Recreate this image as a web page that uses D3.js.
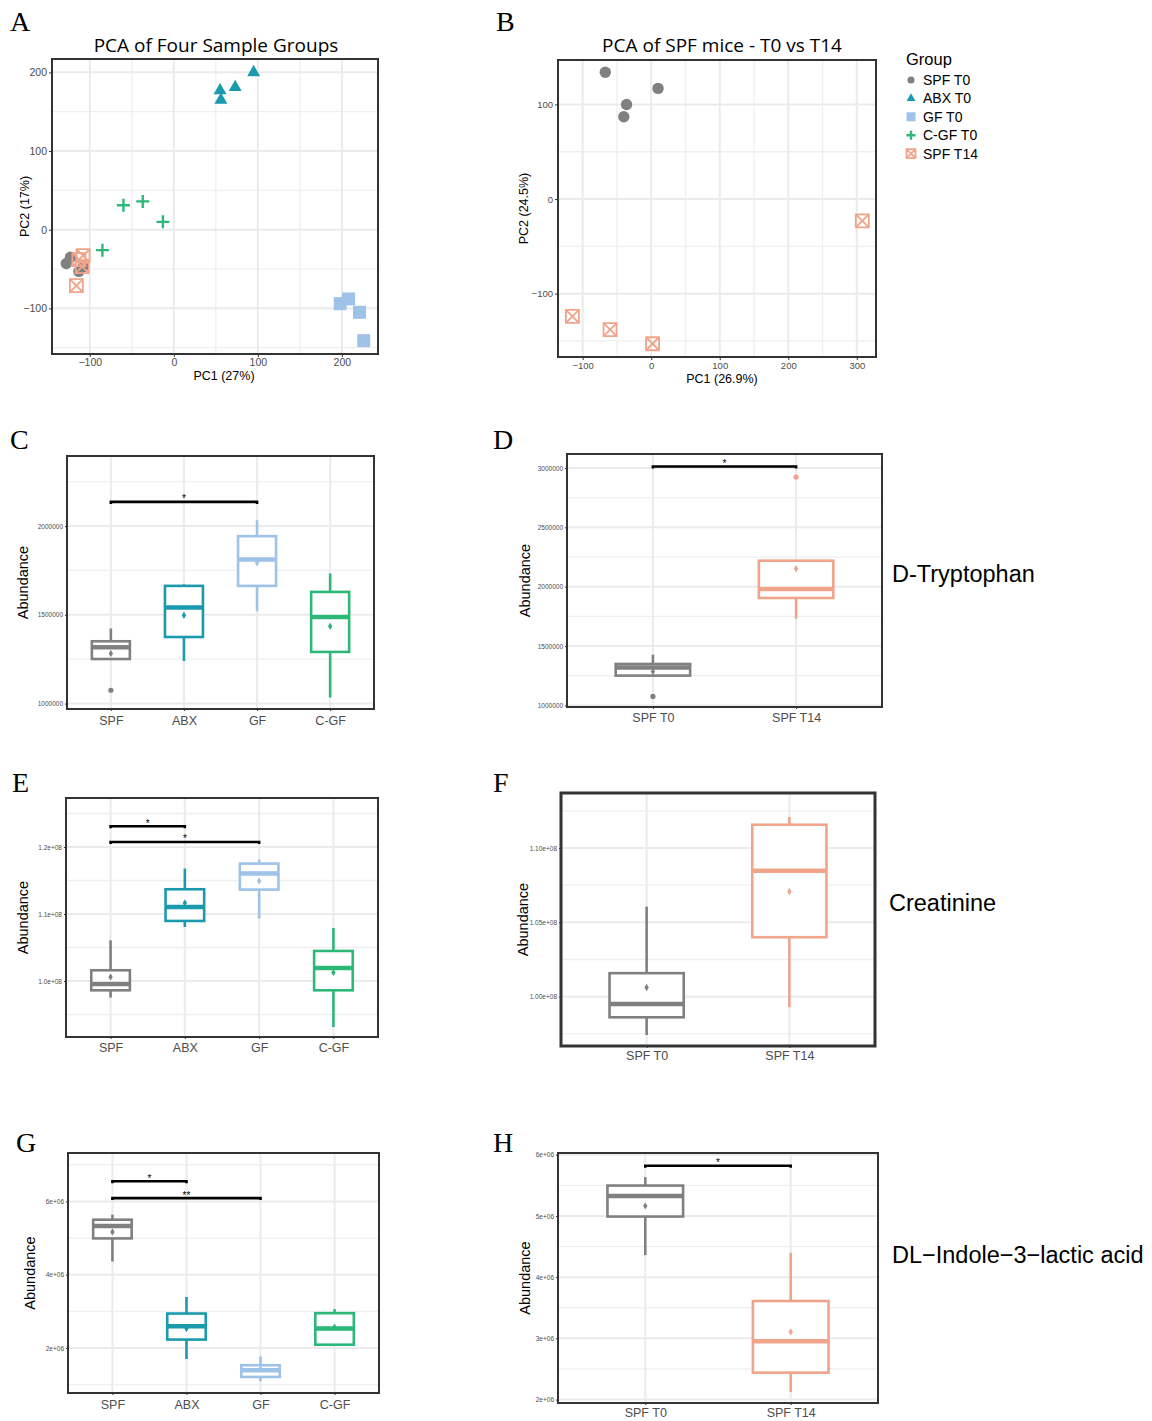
<!DOCTYPE html>
<html>
<head>
<meta charset="utf-8">
<script src="https://cdn.jsdelivr.net/npm/d3@7"></script>
<style>
body { margin: 0; background: #fff; }
</style>
</head>
<body>
<svg id="fig"></svg>
<script>
// ---------- data ----------
const pcaGroups = ["SPF T0", "ABX T0", "GF T0", "C-GF T0", "SPF T14"];
const groupColors = ["#808080", "#1b9aae", "#9ec2e8", "#2db87a", "#f0a48a"];
const groupShapes = ["circle", "triangle", "square", "plus", "squarex"];

// PCA A: [PC1, PC2]
const pcaA_spfT0 = [[-128, -43], [-123, -35], [-113, -53], [-108, -47]];
const pcaA_abxT0 = [[55, 177], [56, 165], [73, 181], [95, 200]];
const pcaA_gfT0 = [[198, -94], [208, -88], [221, -105], [226, -141]];
const pcaA_cgfT0 = [[-60, 31], [-37, 36], [-13, 10], [-85, -26]];
const pcaA_spfT14 = [[-108, -33], [-109, -47], [-116, -71], [-113, -38]];
const pcaA_xTicks = [-100, 0, 100, 200], pcaA_xMinor = [-50, 50, 150];
const pcaA_yTicks = [-100, 0, 100, 200], pcaA_yMinor = [-150, -50, 50, 150];

// PCA B
const pcaB_spfT0 = [[-67, 134], [10, 117], [-36, 100], [-40, 87]];
const pcaB_spfT14 = [[-115, -124], [-60, -138], [2, -153], [308, -23]];
const pcaB_xTicks = [-100, 0, 100, 200, 300], pcaB_xMinor = [-50, 50, 150, 250];
const pcaB_yTicks = [-100, 0, 100], pcaB_yMinor = [-150, -50, 50];

// boxplots: [whisker low, q1, median, q3, whisker high, mean]
const groups4 = ["SPF", "ABX", "GF", "C-GF"];
const groups2 = ["SPF T0", "SPF T14"];
const colors4 = ["#808080", "#1b9aae", "#9ec2e8", "#2db87a"];
const colors2 = ["#808080", "#f0a48a"];

const trpStats4 = [
  [1251000, 1251000, 1318000, 1351000, 1423000, 1282000],
  [1240000, 1375000, 1541000, 1663000, 1671000, 1498000],
  [1520000, 1663000, 1812000, 1943000, 2033000, 1793000],
  [1034000, 1291000, 1488000, 1629000, 1733000, 1436000]
];
const trpOutliers4 = [[1075000], [], [], []];
const trpTicks4 = [1000000, 1500000, 2000000], trpMinor4 = [1250000, 1750000, 2250000];

const trpStats2 = [
  [1251000, 1251000, 1320000, 1349000, 1427000, 1286000],
  [1730000, 1905000, 1981000, 2219000, 2219000, 2152000]
];
const trpOutliers2 = [[1076000], [2924000]];
const trpTicks2 = [1000000, 1500000, 2000000, 2500000, 3000000];
const trpMinor2 = [1250000, 1750000, 2250000, 2750000];

const creStats4 = [
  [0.9752e8, 0.9861e8, 0.9955e8, 1.0160e8, 1.0607e8, 1.0060e8],
  [1.0806e8, 1.0896e8, 1.1104e8, 1.1369e8, 1.1678e8, 1.1164e8],
  [1.0931e8, 1.1364e8, 1.1603e8, 1.1752e8, 1.1812e8, 1.1493e8],
  [0.9313e8, 0.9861e8, 1.0194e8, 1.0448e8, 1.0791e8, 1.0125e8]
];
const creTicks4 = [1.0e8, 1.1e8, 1.2e8], creMinor4 = [0.95e8, 1.05e8, 1.15e8, 1.25e8];

const creStats2 = [
  [0.9742e8, 0.9861e8, 0.9951e8, 1.0158e8, 1.0606e8, 1.0061e8],
  [0.9929e8, 1.0400e8, 1.0847e8, 1.1157e8, 1.1209e8, 1.0708e8]
];
const creTicks2 = [1.00e8, 1.05e8, 1.10e8], creMinor2 = [0.975e8, 1.025e8, 1.075e8, 1.125e8];

const ilaStats4 = [
  [4.36e6, 4.99e6, 5.33e6, 5.50e6, 5.637e6, 5.165e6],
  [1.70e6, 2.23e6, 2.59e6, 2.94e6, 3.39e6, 2.53e6],
  [1.09e6, 1.21e6, 1.39e6, 1.53e6, 1.77e6, 1.43e6],
  [2.09e6, 2.09e6, 2.53e6, 2.95e6, 3.06e6, 2.57e6]
];
const ilaTicks4 = [2e6, 4e6, 6e6], ilaMinor4 = [1e6, 3e6, 5e6, 7e6];

const ilaStats2 = [
  [4.36e6, 4.99e6, 5.327e6, 5.496e6, 5.633e6, 5.164e6],
  [2.125e6, 2.44e6, 2.954e6, 3.61e6, 4.40e6, 3.106e6]
];
const ilaTicks2 = [2e6, 3e6, 4e6, 5e6, 6e6], ilaMinor2 = [2.5e6, 3.5e6, 4.5e6, 5.5e6];

// significance brackets: [from, to, y, label]
const trpSig4 = [["SPF", "GF", 2136000, "*"]];
const trpSig2 = [["SPF T0", "SPF T14", 3013000, "*"]];
const creSig4 = [["SPF", "ABX", 1.2309e8, "*"], ["SPF", "GF", 1.2075e8, "*"]];
const ilaSig4 = [["SPF", "ABX", 6.55e6, "*"], ["SPF", "GF", 6.09e6, "**"]];
const ilaSig2 = [["SPF T0", "SPF T14", 5.82e6, "*"]];

// ---------- drawing ----------
const svg = d3.select("#fig").attr("width", 1152).attr("height", 1421);
svg.append("rect").attr("width", 1152).attr("height", 1421).attr("fill", "#fff");

const SANS = "'Liberation Sans', Arial, sans-serif";

function sci(p) {
  return d => {
    const s = d3.format("." + p + "e")(d);
    const [m, e] = s.split("e");
    return m + "e" + e[0] + e.slice(1).padStart(2, "0");
  };
}

function symbolPath(shape, s) {
  const h = s / 2;
  if (shape === "circle") return d3.symbol(d3.symbolCircle, Math.PI * h * h * 0.9)();
  if (shape === "triangle") return d3.symbol(d3.symbolTriangle, Math.sqrt(3) / 4 * s * s)();
  if (shape === "square") return `M${-h},${-h}H${h}V${h}H${-h}Z`;
  if (shape === "plus") return `M${-h},0H${h}M0,${-h}V${h}`;
  return `M${-h},${-h}H${h}V${h}H${-h}ZM${-h},${-h}L${h},${h}M${h},${-h}L${-h},${h}`;
}

function drawMarker(g, shape, color, x, y, s) {
  const p = g.append("path").attr("d", symbolPath(shape, s)).attr("transform", `translate(${x},${y})`);
  if (shape === "plus" || shape === "squarex") {
    p.attr("fill", "none").attr("stroke", color).attr("stroke-width", shape === "plus" ? 2.4 : 1.8);
  } else {
    p.attr("fill", color);
  }
}

function frame(r, xTicks, xMinor, yTicks, yMinor, x, y) {
  const g = svg.append("g");
  const grid = g.append("g");
  yMinor.forEach(v => grid.append("line").attr("x1", r.x0).attr("x2", r.x1)
    .attr("y1", y(v)).attr("y2", y(v)).attr("stroke", "#efefef").attr("stroke-width", 1.3));
  xMinor.forEach(v => grid.append("line").attr("y1", r.y0).attr("y2", r.y1)
    .attr("x1", x(v)).attr("x2", x(v)).attr("stroke", "#efefef").attr("stroke-width", 1.3));
  yTicks.forEach(v => grid.append("line").attr("x1", r.x0).attr("x2", r.x1)
    .attr("y1", y(v)).attr("y2", y(v)).attr("stroke", "#ebebeb").attr("stroke-width", 2));
  xTicks.forEach(v => grid.append("line").attr("y1", r.y0).attr("y2", r.y1)
    .attr("x1", x(v)).attr("x2", x(v)).attr("stroke", "#ebebeb").attr("stroke-width", 2));
  return g;
}

function styleAxis(ax, size) {
  ax.select(".domain").remove();
  ax.selectAll(".tick line").attr("stroke", "#333").attr("stroke-width", 1);
  ax.selectAll(".tick text").attr("fill", "#4d4d4d").attr("font-family", SANS).attr("font-size", size);
}

function border(g, r, w) {
  g.append("rect").attr("x", r.x0).attr("y", r.y0).attr("width", r.x1 - r.x0).attr("height", r.y1 - r.y0)
    .attr("fill", "none").attr("stroke", "#333").attr("stroke-width", w);
}

function drawPCA(cfg) {
  const r = cfg.rect;
  const x = d3.scaleLinear().domain(cfg.xDomain).range([r.x0, r.x1]);
  const y = d3.scaleLinear().domain(cfg.yDomain).range([r.y1, r.y0]);
  const g = frame(r, cfg.xTicks, cfg.xMinor, cfg.yTicks, cfg.yMinor, x, y);

  cfg.series.forEach(s => {
    const gi = pcaGroups.indexOf(s.group);
    s.points.forEach(p => drawMarker(g, groupShapes[gi], groupColors[gi], x(p[0]), y(p[1]), gi === 0 ? 12 : 13));
  });

  border(g, r, 2);
  const ax = g.append("g").attr("transform", `translate(0,${r.y1})`)
    .call(d3.axisBottom(x).tickValues(cfg.xTicks).tickSize(3).tickPadding(2));
  styleAxis(ax, cfg.tickSize);
  const ay = g.append("g").attr("transform", `translate(${r.x0},0)`)
    .call(d3.axisLeft(y).tickValues(cfg.yTicks).tickSize(3).tickPadding(2));
  styleAxis(ay, cfg.tickSize);

  g.append("text").attr("x", (r.x0 + r.x1) / 2 + cfg.titleDx).attr("y", 52).attr("text-anchor", "middle")
    .attr("font-family", "'Open Sans', sans-serif").attr("font-size", 19).text(cfg.title);
  g.append("text").attr("x", (r.x0 + r.x1) / 2 + cfg.xLabDx).attr("y", r.y1 + 26).attr("text-anchor", "middle")
    .attr("font-family", SANS).attr("font-size", 12.5).text(cfg.xLabel);
  g.append("text").attr("transform", `translate(${cfg.yLabX},${(r.y0 + r.y1) / 2}) rotate(-90)`)
    .attr("text-anchor", "middle").attr("dominant-baseline", "central")
    .attr("font-family", SANS).attr("font-size", 12.5).text(cfg.yLabel);
}

function drawBox(cfg) {
  const r = cfg.rect;
  const x = d3.scalePoint().domain(cfg.groups).range([r.x0, r.x1]).padding(0.6);
  const y = d3.scaleLinear().domain(cfg.yDomain).range([r.y1, r.y0]);
  const g = frame(r, cfg.groups, [], cfg.yTicks, cfg.yMinor, x, y);
  const bw = x.step() * 0.52;

  cfg.groups.forEach((grp, i) => {
    const [lo, q1, med, q3, hi, mean] = cfg.stats[i];
    const c = cfg.colors[i], cx = x(grp);
    g.append("line").attr("x1", cx).attr("x2", cx).attr("y1", y(q3)).attr("y2", y(hi))
      .attr("stroke", c).attr("stroke-width", 2.6);
    g.append("line").attr("x1", cx).attr("x2", cx).attr("y1", y(q1)).attr("y2", y(lo))
      .attr("stroke", c).attr("stroke-width", 2.6);
    g.append("rect").attr("x", cx - bw / 2).attr("y", y(q3)).attr("width", bw).attr("height", y(q1) - y(q3))
      .attr("fill", "#fff").attr("stroke", c).attr("stroke-width", 2.6);
    g.append("line").attr("x1", cx - bw / 2).attr("x2", cx + bw / 2).attr("y1", y(med)).attr("y2", y(med))
      .attr("stroke", c).attr("stroke-width", 4.5);
    g.append("path").attr("d", d3.symbol(d3.symbolDiamond, 16)()).attr("transform", `translate(${cx},${y(mean)})`)
      .attr("fill", c);
    (cfg.outliers ? cfg.outliers[i] : []).forEach(v =>
      g.append("circle").attr("cx", cx).attr("cy", y(v)).attr("r", 2.6).attr("fill", c));
  });

  (cfg.sig || []).forEach(([a, b, v, lab]) => {
    const yy = y(v);
    g.append("path").attr("d", `M${x(a)},${yy + 2}V${yy}H${x(b)}V${yy + 2}`)
      .attr("fill", "none").attr("stroke", "#000").attr("stroke-width", 2.6);
    g.append("text").attr("x", (x(a) + x(b)) / 2).attr("y", yy + 0.5).attr("text-anchor", "middle")
      .attr("font-family", SANS).attr("font-size", 10).text(lab);
  });

  border(g, r, cfg.borderW || 2);
  const ax = g.append("g").attr("transform", `translate(0,${r.y1})`)
    .call(d3.axisBottom(x).tickSize(2).tickPadding(cfg.xPad));
  styleAxis(ax, 12.5);
  const ay = g.append("g").attr("transform", `translate(${r.x0},0)`)
    .call(d3.axisLeft(y).tickValues(cfg.yTicks).tickFormat(cfg.fmt).tickSize(2).tickPadding(2));
  styleAxis(ay, 6.5);

  g.append("text").attr("transform", `translate(${cfg.yLabX},${(r.y0 + r.y1) / 2}) rotate(-90)`)
    .attr("text-anchor", "middle").attr("dominant-baseline", "central")
    .attr("font-family", SANS).attr("font-size", 14.5).text("Abundance");

  if (cfg.sideLabel) {
    svg.append("text").attr("x", cfg.sideLabel[1]).attr("y", cfg.sideLabel[2]).attr("dominant-baseline", "central")
      .attr("font-family", SANS).attr("font-size", 23.5).text(cfg.sideLabel[0]);
  }
}

// panel A
drawPCA({
  rect: { x0: 52, x1: 378, y0: 59, y1: 354 },
  xDomain: [-145, 243], yDomain: [-158, 217],
  xTicks: pcaA_xTicks, xMinor: pcaA_xMinor, yTicks: pcaA_yTicks, yMinor: pcaA_yMinor,
  series: [
    { group: "SPF T0", points: pcaA_spfT0 },
    { group: "SPF T14", points: pcaA_spfT14 },
    { group: "C-GF T0", points: pcaA_cgfT0 },
    { group: "ABX T0", points: pcaA_abxT0 },
    { group: "GF T0", points: pcaA_gfT0 }
  ],
  title: "PCA of Four Sample Groups", titleDx: 1, xLabDx: 9,
  xLabel: "PC1 (27%)", yLabel: "PC2 (17%)", yLabX: 25, tickSize: 10.5
});

// panel B
drawPCA({
  rect: { x0: 558, x1: 876, y0: 60, y1: 357 },
  xDomain: [-136, 328], yDomain: [-167, 147],
  xTicks: pcaB_xTicks, xMinor: pcaB_xMinor, yTicks: pcaB_yTicks, yMinor: pcaB_yMinor,
  series: [
    { group: "SPF T0", points: pcaB_spfT0 },
    { group: "SPF T14", points: pcaB_spfT14 }
  ],
  title: "PCA of SPF mice - T0 vs T14", titleDx: 5, xLabDx: 5,
  xLabel: "PC1 (26.9%)", yLabel: "PC2 (24.5%)", yLabX: 524, tickSize: 9.5
});

// legend
const lg = svg.append("g");
lg.append("text").attr("x", 906).attr("y", 65).attr("font-family", SANS).attr("font-size", 16.5).text("Group");
pcaGroups.forEach((name, i) => {
  const yy = 80 + i * 18.4;
  drawMarker(lg, groupShapes[i], groupColors[i], 911, yy, i === 0 ? 7.5 : 9);
  lg.append("text").attr("x", 923).attr("y", yy).attr("dominant-baseline", "central")
    .attr("font-family", SANS).attr("font-size", 14).text(name);
});

// panels C-H
drawBox({ rect: { x0: 67, x1: 374, y0: 456, y1: 709 }, groups: groups4, colors: colors4,
  stats: trpStats4, outliers: trpOutliers4, yDomain: [969500, 2394600],
  yTicks: trpTicks4, yMinor: trpMinor4, fmt: d3.format("d"), sig: trpSig4, yLabX: 23, xPad: 5 });
drawBox({ rect: { x0: 567, x1: 882, y0: 454, y1: 707 }, groups: groups2, colors: colors2,
  stats: trpStats2, outliers: trpOutliers2, yDomain: [986500, 3118000],
  yTicks: trpTicks2, yMinor: trpMinor2, fmt: d3.format("d"), sig: trpSig2, yLabX: 525, xPad: 4,
  sideLabel: ["D-Tryptophan", 892, 574] });
drawBox({ rect: { x0: 66, x1: 378, y0: 798, y1: 1037 }, groups: groups4, colors: colors4,
  stats: creStats4, yDomain: [0.9164e8, 1.2731e8],
  yTicks: creTicks4, yMinor: creMinor4, fmt: sci(1), sig: creSig4, yLabX: 23, xPad: 4 });
drawBox({ rect: { x0: 561, x1: 875, y0: 793, y1: 1046 }, groups: groups2, colors: colors2,
  stats: creStats2, yDomain: [0.96678e8, 1.13706e8], borderW: 3,
  yTicks: creTicks2, yMinor: creMinor2, fmt: sci(2), yLabX: 523, xPad: 3,
  sideLabel: ["Creatinine", 889, 903] });
drawBox({ rect: { x0: 68, x1: 379, y0: 1153, y1: 1393 }, groups: groups4, colors: colors4,
  stats: ilaStats4, yDomain: [0.772e6, 7.32e6],
  yTicks: ilaTicks4, yMinor: ilaMinor4, fmt: sci(0), sig: ilaSig4, yLabX: 30, xPad: 5 });
drawBox({ rect: { x0: 558, x1: 878, y0: 1153, y1: 1403 }, groups: groups2, colors: colors2,
  stats: ilaStats2, yDomain: [1.944e6, 6.028e6],
  yTicks: ilaTicks2, yMinor: ilaMinor2, fmt: sci(0), sig: ilaSig2, yLabX: 525, xPad: 3,
  sideLabel: ["DL\u2212Indole\u22123\u2212lactic acid", 892, 1255] });

// panel letters
[["A", 10, 31], ["B", 496, 31], ["C", 10, 449], ["D", 493, 449],
 ["E", 12, 792], ["F", 493, 792], ["G", 16, 1152], ["H", 493, 1152]].forEach(([t, lx, ly]) =>
  svg.append("text").attr("x", lx).attr("y", ly).attr("font-family", "'Liberation Serif', serif")
    .attr("font-size", 28).text(t));
</script>
</body>
</html>
